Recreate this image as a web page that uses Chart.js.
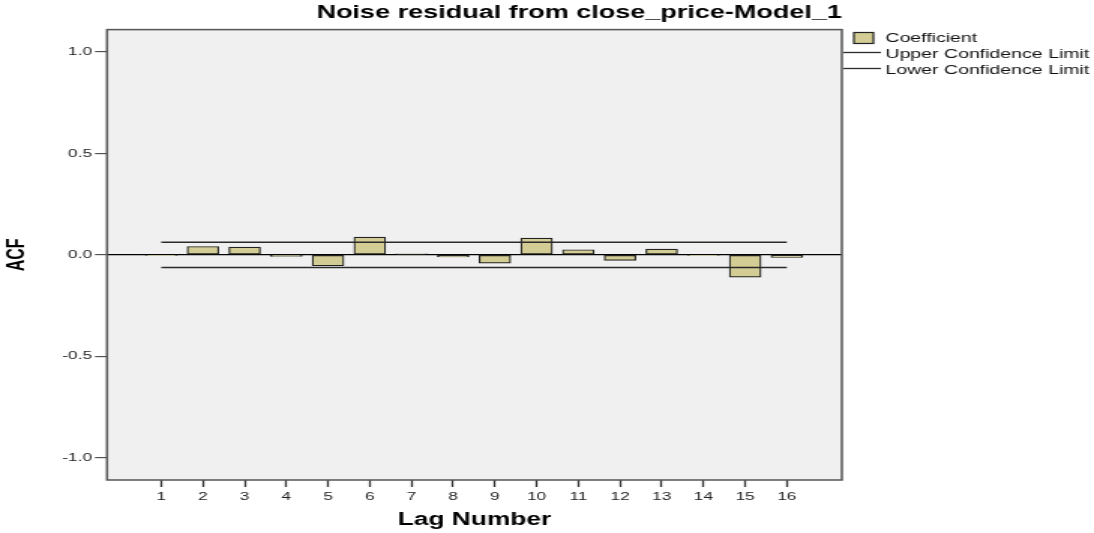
<!DOCTYPE html>
<html>
<head>
<meta charset="utf-8">
<script src="https://cdn.jsdelivr.net/npm/chart.js@4"></script>
<style>
  html,body{margin:0;padding:0;background:#fff;}
</style>
</head>
<body>
<!-- the reference is stretched sideways, so the canvas is drawn narrow and widened by its inline style -->
<canvas id="acf" width="729" height="533" style="display:block;width:1094px;height:533px"></canvas>
<script>
const lags = [1,2,3,4,5,6,7,8,9,10,11,12,13,14,15,16];
const coefficient = [-0.003,0.041,0.038,-0.008,-0.054,0.087,0.005,-0.011,-0.041,0.082,0.025,-0.028,0.028,-0.003,-0.110,-0.013];
const upperLimit = [0.062,0.062,0.062,0.062,0.062,0.062,0.062,0.062,0.062,0.062,0.062,0.062,0.062,0.062,0.062,0.062];
const lowerLimit = [-0.062,-0.062,-0.062,-0.062,-0.062,-0.062,-0.062,-0.062,-0.062,-0.062,-0.062,-0.062,-0.062,-0.062,-0.062,-0.062];
const yTickValues = [-1,-0.5,0,0.5,1];
const yTickLabels = ["-1.0","-0.5","0.0","0.5","1.0"];

const FONT = "'Liberation Sans', Arial, sans-serif";
const BAR_FILL = "#d3cd95", LINE_COL = "#2a2a2a";

// plot panel: grey fill behind, dark frame on top
const panelPlugin = {
  id:"panel",
  beforeDraw(chart){
    const {ctx, chartArea:a} = chart;
    ctx.save(); ctx.fillStyle="#f0f0f0";
    ctx.fillRect(a.left,a.top,a.right-a.left,a.bottom-a.top); ctx.restore();
  },
  afterDatasetsDraw(chart){
    const {ctx, chartArea:a} = chart;
    ctx.save(); ctx.strokeStyle="#555"; ctx.lineWidth=1.5;
    ctx.strokeRect(a.left,a.top,a.right-a.left,a.bottom-a.top); ctx.restore();
  }
};

// legend drawn next to the panel, spss style
const legendPlugin = {
  id:"spssLegend",
  afterDraw(chart){
    const {ctx, chartArea:a} = chart;
    const ds = chart.data.datasets;
    const tx = a.right+29, rows=[38,54,70];
    ctx.save();
    ctx.font = "13px "+FONT; ctx.textBaseline="middle"; ctx.textAlign="left";
    ds.forEach((d,i)=>{
      const y = rows[i];
      if(d.type==="bar"){
        ctx.fillStyle=BAR_FILL; ctx.fillRect(a.right+8,y-5.5,13,11);
        ctx.strokeStyle="#222"; ctx.lineWidth=1.2; ctx.strokeRect(a.right+8,y-5.5,13,11);
      }else{
        ctx.strokeStyle=LINE_COL; ctx.lineWidth=1.3;
        ctx.beginPath(); ctx.moveTo(a.right+1,y-1.5); ctx.lineTo(a.right+26,y-1.5); ctx.stroke();
      }
      ctx.fillStyle="#111"; ctx.fillText(d.label,tx,y);
    });
    ctx.restore();
  }
};

new Chart(document.getElementById("acf"),{
  data:{
    datasets:[
      {type:"bar",label:"Coefficient",order:2,
       data:lags.map((l,i)=>({x:l,y:coefficient[i]})),
       backgroundColor:BAR_FILL,borderColor:"#222",borderWidth:1.2,borderSkipped:false,barThickness:21},
      {type:"line",label:"Upper Confidence Limit",order:1,
       data:lags.map((l,i)=>({x:l,y:upperLimit[i]})),
       borderColor:LINE_COL,borderWidth:1.5,pointRadius:0,tension:0,fill:false},
      {type:"line",label:"Lower Confidence Limit",order:1,
       data:lags.map((l,i)=>({x:l,y:lowerLimit[i]})),
       borderColor:LINE_COL,borderWidth:1.5,pointRadius:0,tension:0,fill:false}
    ]
  },
  options:{
    responsive:false, devicePixelRatio:1, animation:false,
    layout:{padding:{left:0,right:168,top:0,bottom:0}},
    plugins:{
      legend:{display:false}, tooltip:{enabled:false},
      title:{display:true,text:"Noise residual from close_price-Model_1",color:"#000",align:"end",
        font:{family:FONT,size:18,weight:"bold"},padding:{top:2,bottom:6}}
    },
    scales:{
      x:{type:"linear",min:-0.3,max:17.32,offset:false,
        afterBuildTicks:ax=>{ax.ticks=lags.map(v=>({value:v}));},
        afterFit:ax=>{ax.height=53;},
        border:{display:false},
        grid:{offset:false,drawOnChartArea:false,drawTicks:true,tickLength:7,tickColor:"#333",tickWidth:1.3},
        ticks:{color:"#222",padding:3,font:{family:FONT,size:11.5},autoSkip:false,maxRotation:0,
          callback:v=>String(v)},
        title:{display:true,text:"Lag Number",color:"#000",font:{family:FONT,size:17.5,weight:"bold"},padding:{top:0,bottom:2}}
      },
      y:{type:"linear",min:-1.11,max:1.11,
        afterBuildTicks:ax=>{ax.ticks=yTickValues.map(v=>({value:v}));},
        afterFit:ax=>{ax.width=71.3;},
        border:{display:false},
        grid:{drawTicks:true,tickLength:8,tickColor:"#333",tickWidth:1,
          color:c=>c.tick && c.tick.value===0 ? "#000" : "rgba(0,0,0,0)",lineWidth:1.3},
        ticks:{color:"#222",padding:2,font:{family:FONT,size:11.5},
          callback:v=>yTickLabels[yTickValues.indexOf(v)]},
        title:{display:true,text:"ACF",color:"#000",font:{family:FONT,size:16,weight:"bold"},padding:{top:2,bottom:0}}
      }
    }
  },
  plugins:[panelPlugin,legendPlugin]
});
</script>
</body>
</html>
